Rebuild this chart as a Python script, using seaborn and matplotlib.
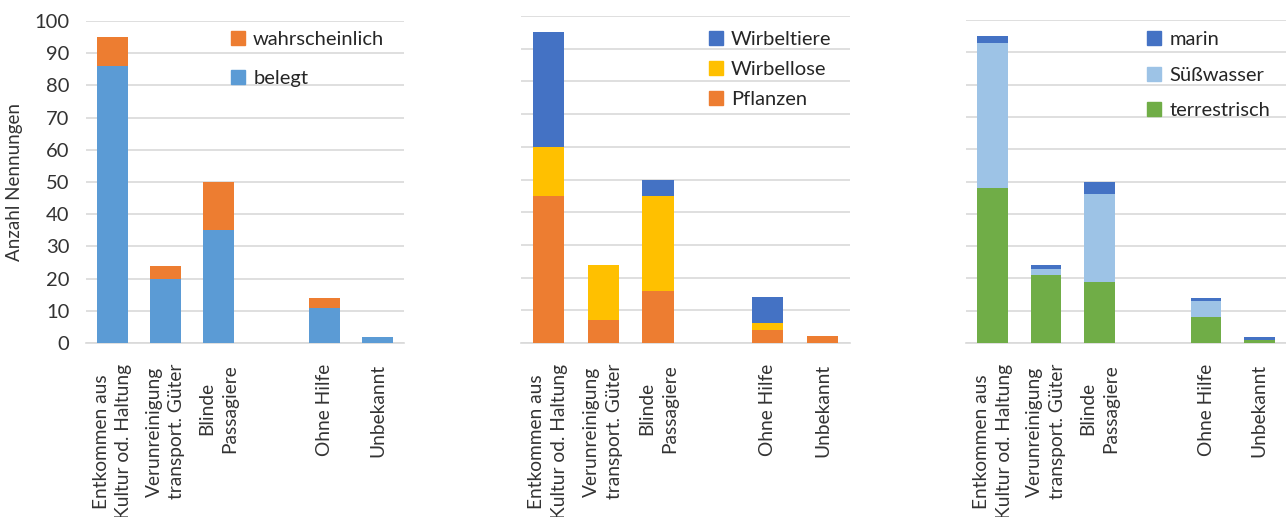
import numpy as np
import pandas as pd
import matplotlib
matplotlib.use("Agg")
import matplotlib.pyplot as plt
import seaborn as sns
from matplotlib.patches import Patch

# Categories (empty slot between "Blinde Passagiere" and "Ohne Hilfe")
categories = ["Entkommen aus\nKultur od. Haltung", "Verunreinigung\ntransport. Güter",
              "Blinde\nPassagiere", "", "Ohne Hilfe", "Unbekannt"]

# Panel 1: Nachweis
belegt = [86, 20, 35, np.nan, 11, 2]
wahrscheinlich = [9, 4, 15, np.nan, 3, 0]

# Panel 2: Organismengruppe
pflanzen = [45, 7, 16, np.nan, 4, 2]
wirbellose = [15, 17, 29, np.nan, 2, 0]
wirbeltiere = [35, 0, 5, np.nan, 8, 0]

# Panel 3: Lebensraum
terrestrisch = [48, 21, 19, np.nan, 8, 1]
suesswasser = [45, 2, 27, np.nan, 5, 0]
marin = [2, 1, 4, np.nan, 1, 1]

sns.set_style("white")
plt.rcParams["font.family"] = ["Lato", "DejaVu Sans"]

fig = plt.figure(figsize=(12.86, 5.17), dpi=100)
ax1 = fig.add_axes([86 / 1286, 174 / 517, 318 / 1286, 322 / 517])
ax2 = fig.add_axes([521 / 1286, 174 / 517, 329 / 1286, 327 / 517])
ax3 = fig.add_axes([966 / 1286, 174 / 517, 320 / 1286, 323 / 517])

panels = [
    (ax1, [("belegt", belegt, "#5B9BD5"), ("wahrscheinlich", wahrscheinlich, "#ED7D31")],
     (231 / 1286, 1 - 31 / 517), 1.1),
    (ax2, [("Pflanzen", pflanzen, "#ED7D31"), ("Wirbellose", wirbellose, "#FFC000"),
           ("Wirbeltiere", wirbeltiere, "#4472C4")],
     (709 / 1286, 1 - 31 / 517), 0.65),
    (ax3, [("terrestrisch", terrestrisch, "#70AD47"), ("Süßwasser", suesswasser, "#9DC3E6"),
           ("marin", marin, "#4472C4")],
     (1147 / 1286, 1 - 31 / 517), 0.92),
]

for ax, series, legpos, spacing in panels:
    df = pd.DataFrame({"cat": categories})
    cum = np.zeros(len(categories))
    stacks = []
    for name, vals, col in series:
        cum = cum + np.array(vals, dtype=float)
        stacks.append((name, cum.copy(), col))
    # draw tallest (cumulative) first, then overlay lower segments
    for name, tot, col in reversed(stacks):
        df["val"] = tot
        sns.barplot(data=df, x="cat", y="val", order=categories, color=col,
                    saturation=1, width=0.57, errorbar=None, linewidth=0, ax=ax, zorder=3)
    ax.set_ylim(0, 100)
    ax.set_xlim(-0.5, len(categories) - 0.5)
    ax.set_yticks(range(0, 101, 10))
    ax.grid(axis="y", color="#D9D9D9", linewidth=1.2, zorder=0)
    ax.set_axisbelow(True)
    for s in ["top", "right", "left"]:
        ax.spines[s].set_visible(False)
    ax.spines["bottom"].set_color("#D9D9D9")
    ax.spines["bottom"].set_linewidth(1.2)
    ax.set_xlabel("")
    ax.set_ylabel("")
    ax.tick_params(axis="both", length=0)
    ax.set_xticks(range(len(categories)))
    ax.set_xticklabels(categories, rotation=90, fontsize=13.8, color="#333333",
                       multialignment="center", linespacing=1.42)
    ax.tick_params(axis="x", pad=15)
    handles = [Patch(color=col, label=name) for name, vals, col in reversed(series)]
    ax.legend(handles=handles, loc="upper left", bbox_to_anchor=legpos,
              bbox_transform=fig.transFigure, frameon=False, fontsize=14.5,
              handlelength=0.7, handleheight=0.7, handletextpad=0.4,
              labelspacing=spacing, borderaxespad=0, borderpad=0, labelcolor="#262626")

ax1.tick_params(axis="y", labelsize=14.5, labelcolor="#333333", pad=12)
ax1.set_ylabel("Anzahl Nennungen", fontsize=13.5, color="#333333", labelpad=8)
ax2.set_yticklabels([])
ax3.set_yticklabels([])

fig.savefig("out.png", dpi=100)
